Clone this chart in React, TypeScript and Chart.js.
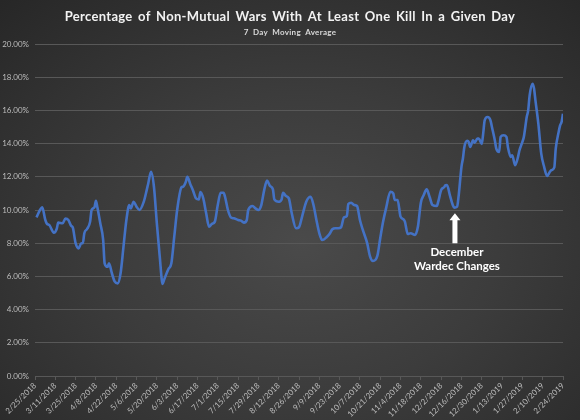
import React, { useEffect, useRef } from "react";
import { Chart, registerables } from "chart.js";

Chart.register(...registerables);

const TITLE = "Percentage of Non-Mutual Wars With At Least One Kill In a Given Day";
const SUBTITLE = "7 Day Moving Average";

const xTickLabels = [
  "2/25/2018", "3/11/2018", "3/25/2018", "4/8/2018", "4/22/2018", "5/6/2018", "5/20/2018",
  "6/3/2018", "6/17/2018", "7/1/2018", "7/15/2018", "7/29/2018", "8/12/2018", "8/26/2018",
  "9/9/2018", "9/23/2018", "10/7/2018", "10/21/2018", "11/4/2018", "11/18/2018", "12/2/2018",
  "12/16/2018", "12/30/2018", "1/13/2019", "1/27/2019", "2/10/2019", "2/24/2019",
];
const TICK_STEP_DAYS = 14;

// days since 2/25/2018
const dayOffsets = [
  1, 5, 7, 8, 10, 13, 15, 16, 19, 21, 23, 25, 26, 28, 30, 32, 33, 34, 36, 38,
  39, 41, 42, 43, 45, 47, 48, 50, 51, 53, 55, 57, 59, 61, 63, 65, 66, 68, 70, 72,
  75, 77, 78, 80, 82, 84, 86, 88, 89, 92, 94, 96, 98, 101, 102, 104, 105, 107, 109, 111,
  113, 114, 116, 118, 120, 122, 124, 126, 128, 130, 131, 133, 135, 137, 140, 142, 144, 146, 147, 150,
  152, 154, 156, 158, 160, 162, 164, 165, 168, 170, 171, 173, 175, 177, 180, 182, 184, 187, 190, 192,
  194, 196, 198, 201, 203, 205, 207, 209, 211, 213, 215, 216, 218, 220, 222, 224, 226, 229, 231, 233,
  236, 238, 240, 242, 245, 247, 248, 250, 252, 254, 255, 257, 259, 262, 264, 266, 268, 270, 272, 274,
  277, 278, 280, 282, 283, 284, 286, 288, 289, 291, 292, 294, 295, 296, 298, 299, 300, 302, 303, 305,
  306, 308, 309, 310, 312, 314, 315, 317, 318, 320, 321, 323, 325, 326, 328, 329, 331, 333, 334, 336,
  337, 339, 340, 341, 343, 344, 345, 347, 349, 351, 353, 355, 356, 358, 359, 361, 362, 363, 364,
];

// percentage of wars with at least one kill (7 day moving average)
const killShare = [
  9.56, 10.16, 9.44, 9.2, 9.08, 8.63, 8.87, 9.24, 9.2, 9.48, 9.4, 9.04, 8.96, 8.0, 7.69, 8.0, 8.0, 8.6, 8.87, 9.3,
  10.0, 10.16, 10.56, 10.16, 9.2, 8.19, 6.79, 6.58, 6.79, 6.19, 5.68, 5.58, 6.19, 7.79, 9.4, 10.3, 10.1, 10.5, 10.2, 10.0,
  10.5, 11.2, 11.57, 12.3, 11.4, 9.2, 7.19, 5.55, 5.8, 6.45, 6.79, 8.39, 10.0, 11.37, 11.4, 11.7, 12.0, 11.57, 11.16, 10.7,
  10.64, 11.08, 10.7, 9.8, 9.0, 9.16, 9.3, 10.3, 11.04, 11.04, 10.8, 10.0, 9.56, 9.5, 9.4, 9.36, 9.24, 9.4, 10.0, 10.24,
  10.1, 10.0, 10.3, 11.2, 11.77, 11.45, 11.25, 10.64, 10.5, 10.64, 11.04, 10.84, 10.7, 9.8, 8.9, 8.96, 9.56, 10.5, 10.8, 10.3,
  9.4, 8.6, 8.19, 8.36, 8.55, 8.84, 8.9, 8.9, 8.96, 9.56, 9.64, 10.36, 10.44, 10.3, 10.24, 9.4, 8.8, 8.0, 7.19, 6.93,
  7.23, 8.3, 9.3, 10.1, 11.1, 11.0, 10.6, 10.6, 9.6, 9.44, 9.3, 8.55, 8.6, 8.5, 9.0, 10.44, 10.9, 11.25, 10.8, 10.3,
  10.24, 10.5, 11.2, 11.37, 11.49, 11.5, 10.9, 10.3, 10.14, 10.2, 10.8, 12.6, 13.1, 13.8, 14.17, 14.1, 13.8, 14.2, 14.05, 14.3,
  14.3, 13.98, 14.62, 15.4, 15.6, 15.4, 15.0, 14.2, 13.7, 13.5, 14.4, 14.5, 14.4, 13.8, 13.2, 13.3, 12.7, 13.2, 13.6, 14.1,
  14.4, 15.6, 16.0, 16.9, 17.6, 17.33, 16.6, 15.2, 13.4, 12.6, 12.05, 12.3, 12.4, 12.57, 13.7, 14.7, 15.1, 15.3, 15.8,
];

const Y_MIN = 0;
const Y_MAX = 20;
const Y_STEP = 2;

const NOTE_LINES = ["December", "Wardec Changes"];
const NOTE_DAY = 289.5;
const NOTE_TIP_VALUE = 9.8;
const NOTE_BASE_VALUE = 8.0;
const NOTE_TEXT_VALUES = [7.45, 6.6];

const LINE_COLOR = "#4472C4";
const GRID_COLOR = "#585858";
const TICK_COLOR = "#bcbcbc";
const FONT = "Lato, 'Open Sans', sans-serif";

const decorPlugin = {
  id: "decor",
  afterDatasetsDraw(chart: any) {
    const { ctx, scales } = chart;
    const x = scales.x.getPixelForValue(NOTE_DAY);
    const tipY = scales.y.getPixelForValue(NOTE_TIP_VALUE);
    const baseY = scales.y.getPixelForValue(NOTE_BASE_VALUE);
    const headH = 7;
    const headW = 5.5;
    const shaftW = 2.5;
    ctx.save();
    ctx.fillStyle = "#ffffff";
    ctx.beginPath();
    ctx.moveTo(x, tipY);
    ctx.lineTo(x + headW, tipY + headH);
    ctx.lineTo(x + shaftW, tipY + headH);
    ctx.lineTo(x + shaftW, baseY);
    ctx.lineTo(x - shaftW, baseY);
    ctx.lineTo(x - shaftW, tipY + headH);
    ctx.lineTo(x - headW, tipY + headH);
    ctx.closePath();
    ctx.fill();
    ctx.font = `bold 11.5px ${FONT}`;
    ctx.textAlign = "center";
    ctx.textBaseline = "middle";
    NOTE_LINES.forEach((t, i) => {
      ctx.fillText(t, x + 2, scales.y.getPixelForValue(NOTE_TEXT_VALUES[i]));
    });
    ctx.restore();
  },
  afterDraw(chart: any) {
    const { ctx, width } = chart;
    ctx.save();
    ctx.textAlign = "center";
    ctx.textBaseline = "middle";
    ctx.fillStyle = "#f2f2f2";
    ctx.font = `bold 13px ${FONT}`;
    (ctx as any).letterSpacing = "0.3px";
    (ctx as any).wordSpacing = "2px";
    ctx.fillText(TITLE, width / 2, 17);
    ctx.fillStyle = "#d9d9d9";
    ctx.font = `bold 8px ${FONT}`;
    ctx.fillText(SUBTITLE, width / 2, 32);
    ctx.restore();
  },
};

export default function App() {
  const ref = useRef<HTMLCanvasElement>(null);
  useEffect(() => {
    if (!ref.current) return;
    const chart = new Chart(ref.current, {
      type: "line",
      data: {
        datasets: [
          {
            data: dayOffsets.map((d, i) => ({ x: d, y: killShare[i] })),
            borderColor: LINE_COLOR,
            borderWidth: 2.6,
            pointRadius: 0,
            cubicInterpolationMode: "monotone",
            fill: false,
          },
        ],
      },
      options: {
        responsive: false,
        animation: false,
        layout: { padding: { top: 44, right: 17, left: 0, bottom: 0 } },
        plugins: { legend: { display: false }, tooltip: { enabled: false }, title: { display: false } },
        scales: {
          x: {
            type: "linear",
            min: 0,
            max: (xTickLabels.length - 1) * TICK_STEP_DAYS,
            afterFit: (s: any) => { s.height = 44; },
            afterBuildTicks: (s: any) => {
              s.ticks = xTickLabels.map((_, i) => ({ value: i * TICK_STEP_DAYS }));
            },
            ticks: {
              autoSkip: false,
              maxRotation: 45,
              minRotation: 45,
              padding: 1,
              color: TICK_COLOR,
              font: { family: FONT, size: 8 },
              callback: (v: any) => xTickLabels[Math.round(Number(v) / TICK_STEP_DAYS)],
            },
            grid: { drawOnChartArea: false, drawTicks: true, tickLength: 4, color: GRID_COLOR },
            border: { display: true, color: GRID_COLOR, width: 1 },
          },
          y: {
            min: Y_MIN,
            max: Y_MAX,
            afterFit: (s: any) => { s.width = 35; },
            ticks: {
              stepSize: Y_STEP,
              padding: 6,
              color: TICK_COLOR,
              font: { family: FONT, size: 8 },
              callback: (v: any) => Number(v).toFixed(2) + "%",
            },
            grid: { color: GRID_COLOR, drawTicks: false },
            border: { display: false },
          },
        },
      },
      plugins: [decorPlugin],
    });
    return () => chart.destroy();
  }, []);
  return (
    <div
      style={{
        position: "fixed",
        left: 0,
        top: 0,
        width: 580,
        height: 420,
        background: "radial-gradient(ellipse 75% 80% at 52% 58%, #4a4a4a 0%, #3c3c3c 45%, #272727 100%)",
      }}
    >
      <canvas ref={ref} width={580} height={420} style={{ display: "block" }} />
    </div>
  );
}
